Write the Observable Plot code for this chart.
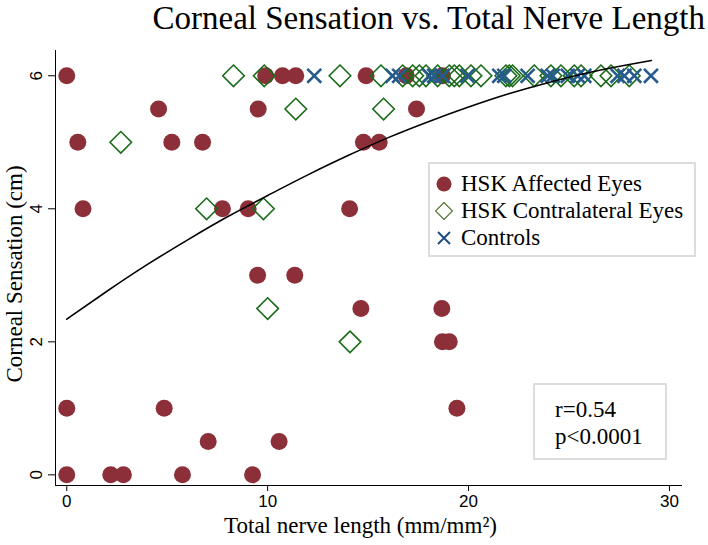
<!DOCTYPE html>
<html>
<head>
<meta charset="utf-8">
<script src="https://cdn.jsdelivr.net/npm/d3@7"></script>
<script src="https://cdn.jsdelivr.net/npm/@observablehq/plot@0.6"></script>
<style>
  body { margin: 0; background: #fff; }
  #wrap { position: relative; width: 708px; height: 545px; overflow: hidden; background: #fff; }
  #title { position: absolute; top: 0; right: 3px; height: 36px; line-height: 36px; font-family: "Liberation Serif", "Times New Roman", serif; font-size: 33px; color: #000; white-space: nowrap; }
  #chart { position: absolute; top: 36px; left: 0; }
  .box { position: absolute; border: 2px solid #dcdcdc; background: #fff; box-sizing: border-box; font-family: "Liberation Serif", "Times New Roman", serif; font-size: 23px; color: #000; }
  .row { position: absolute; left: 0; height: 27px; line-height: 27px; white-space: nowrap; }
  .row svg { position: absolute; left: 5px; top: 5px; }
  .row span { position: absolute; left: 31px; }
</style>
</head>
<body>
<div id="wrap">
  <div id="title">Corneal Sensation vs. Total Nerve Length</div>
  <div id="chart"></div>
  <div class="box" id="legend" style="left:428px; top:162px; width:268px; height:95px;">
    <div class="row" style="top:6px;"><svg width="18" height="18"><circle cx="9" cy="9" r="7.5" fill="#8c2f39"/></svg><span>HSK Affected Eyes</span></div>
    <div class="row" style="top:33px;"><svg width="18" height="18"><path d="M9,0.5L17.5,9L9,17.5L0.5,9Z" fill="none" stroke="#55752f" stroke-width="1.2"/></svg><span>HSK Contralateral Eyes</span></div>
    <div class="row" style="top:60px;"><svg width="18" height="18"><path d="M3,3L15,15M15,3L3,15" stroke="#1f4e7f" stroke-width="2"/></svg><span>Controls</span></div>
  </div>
  <div class="box" id="stats" style="left:533px; top:383px; width:134px; height:77px;">
    <div style="position:absolute; left:20px; top:11px; line-height:27px;">r=0.54<br>p&lt;0.0001</div>
  </div>
</div>
<script>
// ---- data ----
const affectedX = [0, 9.9, 10.74, 11.4, 14.9, 16.9, 18.7,
                   4.57, 9.53, 17.41,
                   0.55, 5.23, 6.76, 14.77, 15.55,
                   0.81, 7.75, 9.03, 14.08,
                   9.5, 11.35,
                   14.64, 18.67,
                   18.7, 19.04,
                   0, 4.85, 19.42,
                   7.04, 10.57,
                   0, 2.19, 2.82, 5.76, 9.25];
const affectedY = [6, 6, 6, 6, 6, 6, 6,
                   5.5, 5.5, 5.5,
                   5, 5, 5, 5, 5,
                   4, 4, 4, 4,
                   3, 3,
                   2.5, 2.5,
                   2, 2,
                   1, 1, 1,
                   0.5, 0.5,
                   0, 0, 0, 0, 0];

const contraX = [8.3, 9.83, 13.6, 15.64, 16.72, 17.22, 17.55, 17.88, 18.46, 19.04, 19.29, 19.54,
                 20.12, 20.62, 21.86, 22.03, 22.19, 23.27, 24.1, 24.6, 25.26, 25.6, 26.59, 27.09, 28.0,
                 11.4, 15.77,
                 2.69,
                 6.96, 9.79,
                 10.0,
                 14.1];
const contraY = [6, 6, 6, 6, 6, 6, 6, 6, 6, 6, 6, 6,
                 6, 6, 6, 6, 6, 6, 6, 6, 6, 6, 6, 6, 6,
                 5.5, 5.5,
                 5,
                 4, 4,
                 2.5,
                 2];

const controlX = [12.32, 16.22, 16.55, 18.04, 18.29, 18.71, 19.95, 21.53, 21.78, 22.94,
                  23.94, 24.19, 24.94, 25.43, 25.76, 27.42, 27.76, 28.25, 29.08];
const controlY = controlX.map(() => 6);

// fitted curve
const fitX = [0, 2, 4, 6, 8, 10, 12, 14, 16, 18, 20, 22, 24, 26, 28, 29.1];
const fitY = [2.34, 2.76, 3.16, 3.53, 3.88, 4.2, 4.51, 4.8, 5.07, 5.31, 5.53, 5.73, 5.9, 6.05, 6.17, 6.23];

const xTicks = [0, 10, 20, 30];
const yTicks = [0, 2, 4, 6];

const xLabel = "Total nerve length (mm/mm²)";
const yLabel = "Corneal Sensation (cm)";

// ---- build tables ----
const affected = affectedX.map((x, i) => ({x, y: affectedY[i]}));
const contra = contraX.map((x, i) => ({x, y: contraY[i]}));
const controls = controlX.map((x, i) => ({x, y: controlY[i]}));
const fit = fitX.map((x, i) => ({x, y: fitY[i]}));

const sans = "'Liberation Sans Narrow', 'Liberation Sans', Arial, sans-serif";
const serif = "'Liberation Serif', 'Times New Roman', serif";

const chart = Plot.plot({
  width: 708,
  height: 509,
  marginTop: 14,
  marginBottom: 60,
  marginLeft: 55,
  marginRight: 27,
  x: {domain: [-0.56, 30.6]},
  y: {domain: [-0.16, 6.38]},
  style: {background: "white", color: "#000", fontFamily: sans, overflow: "visible"},
  marks: [
    Plot.axisX({ticks: xTicks, tickSize: 6, tickPadding: 3, fontSize: 17, fontFamily: sans, label: null, stroke: "#000"}),
    Plot.axisY({ticks: yTicks, tickSize: 7, tickFormat: () => "", label: null, stroke: "#000"}),
    Plot.text(yTicks, {y: d => d, text: d => String(d), frameAnchor: "left", textAnchor: "middle", dx: -19, rotate: -90, fontSize: 17, fontFamily: sans, fill: "#000"}),
    Plot.frame({anchor: "left", stroke: "#000"}),
    Plot.frame({anchor: "bottom", stroke: "#000"}),
    Plot.text([xLabel], {frameAnchor: "bottom", dy: 40, dx: -8, fontSize: 23, fontFamily: serif, fill: "#000", lineAnchor: "middle"}),
    Plot.text([yLabel], {frameAnchor: "left", textAnchor: "middle", dx: -41, dy: 6, rotate: -90, fontSize: 23, fontFamily: serif, fill: "#000"}),
    Plot.dot(affected, {x: "x", y: "y", r: 8.5, fill: "#8c2f39", stroke: "none"}),
    Plot.dot(contra, {x: "x", y: "y", r: 9.7, symbol: "diamond2", stroke: "#1a6b1a", strokeWidth: 1.6, fill: "none"}),
    Plot.dot(controls, {x: "x", y: "y", r: 6.4, symbol: "times", stroke: "#265b8e", strokeWidth: 2.6}),
    Plot.line(fit, {x: "x", y: "y", curve: "natural", stroke: "#000", strokeWidth: 1.6})
  ]
});
document.getElementById("chart").appendChild(chart);
</script>
</body>
</html>
